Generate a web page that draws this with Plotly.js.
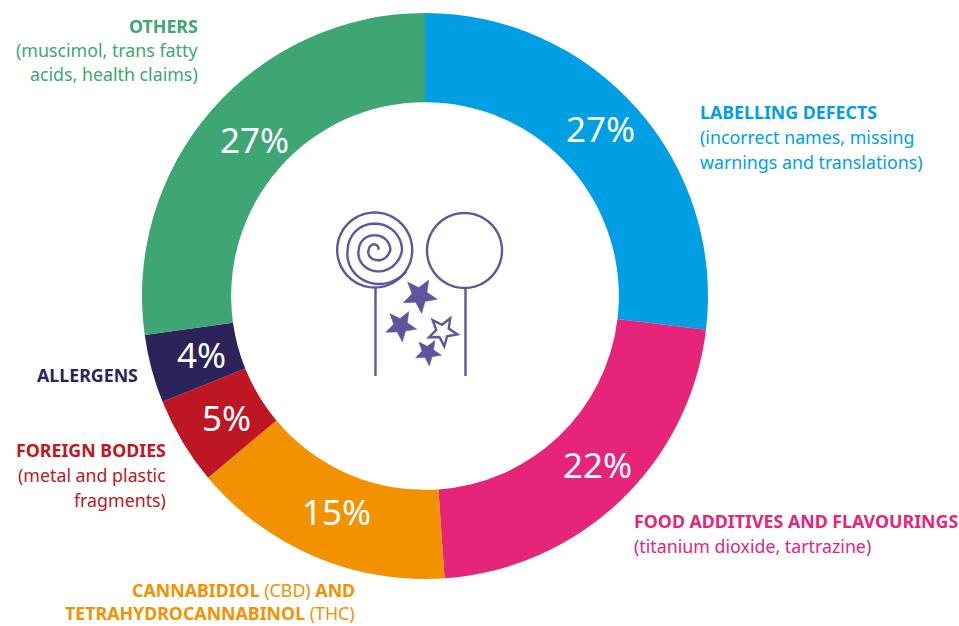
<!DOCTYPE html>
<html><head><meta charset="utf-8">
<script src="https://cdn.plot.ly/plotly-3.0.1.min.js"></script>
<style>html,body{margin:0;padding:0;background:#fff}#c{width:959px;height:626px}</style></head>
<body><div id="c"></div>
<script>
const categories=["LABELLING DEFECTS","FOOD ADDITIVES AND FLAVOURINGS","CANNABIDIOL (CBD) AND TETRAHYDROCANNABINOL (THC)","FOREIGN BODIES","ALLERGENS","OTHERS"];
const values=[26.9,22,15,5,3.9,27.2];
const sliceText=["27%","22%","15%","5%","4%","27%"];
const colors=["#009fe3","#e6247a","#f39200","#be1622","#2b2359","#3da674"];
const labelTexts=[
 ["<b>LABELLING DEFECTS</b>","(incorrect names, missing","warnings and translations)"],
 ["<b>FOOD ADDITIVES AND FLAVOURINGS</b>","(titanium dioxide, tartrazine)"],
 ["<b>CANNABIDIOL</b> (CBD) <b>AND</b>","<b>TETRAHYDROCANNABINOL</b> (THC)"],
 ["<b>FOREIGN BODIES</b>","(metal and plastic","fragments)"],
 ["<b>ALLERGENS</b>"],
 ["<b>OTHERS</b>","(muscimol, trans fatty","acids, health claims)"]
];
const W=959,H=626,FONT='"Noto Sans", sans-serif',INK='#5f559f';
// layout only: anchor x, first line y, line gap, side for each label block; centre of each slice label
const labelPlace=[[698.5,111.5,25,"left"],[632.5,520.5,25,"left"],[355.5,590,23,"right"],[166.5,449.5,25,"right"],[139,375,25,"right"],[198.5,25.5,24.5,"right"]];
const sliceTextPlace=[[600,128],[597,464],[336,511],[226,417],[201,354.5],[254,139]];
const px=x=>(x/W).toFixed(5), py=y=>(1-y/H).toFixed(5);
const toPath=(pts,close)=>pts.map((p,i)=>(i?'L':'M')+px(p[0])+','+py(p[1])).join(' ')+(close?' Z':'');
function circle(cx,cy,r){const k=[];for(let a=0;a<=360;a+=4)k.push([cx+r*Math.sin(a*Math.PI/180),cy-r*Math.cos(a*Math.PI/180)]);return toPath(k,true);}
function star(cx,cy,R,rot){const k=[];for(let i=0;i<10;i++){const a=(rot+i*36)*Math.PI/180,r=i%2?R*0.44:R;k.push([cx+r*Math.sin(a),cy-r*Math.cos(a)]);}return toPath(k,true);}
// icon decoration: spiral radius (in 1/3 px) at each quarter turn, anticlockwise from the right
const spiralR=[11,16,18,30,47,43,48,64,82,78,81,102,115];
function spiral(cx,cy){const k=[];const q=18;for(let i=0;i<spiralR.length-1;i++){const n=i==spiralR.length-2?Math.round(q*0.6):q;for(let j=0;j<=n;j++){const t=j/q,f=j/n,r=(spiralR[i]+(spiralR[i+1]-spiralR[i])*f)/3;const a=(90-(i+t)*90)*Math.PI/180;k.push([cx+r*Math.sin(a),cy-r*Math.cos(a)]);}}return toPath(k,false);}
const line={color:INK,width:2.4};
const shapes=[
 {d:circle(374.7,250,37.5)},{d:circle(464.5,250.5,37.5)},
 {d:spiral(374.7,249.7)},
 {d:toPath([[375.5,288],[375.5,376]])},{d:toPath([[465.5,288],[465.5,376]])},
 {d:star(419.7,295.5,18,30),f:1},{d:star(400.7,325.7,16.3,30),f:1},{d:star(428,352.3,13.7,30),f:1},
 {d:star(442.7,331.3,15,30),h:1}
].map(s=>({type:'path',xref:'paper',yref:'paper',path:s.d,fillcolor:s.f?INK:'rgba(0,0,0,0)',line:s.f?{color:INK,width:0.5}:line}));
const annotations=[];
labelTexts.forEach((lines,i)=>{const p=labelPlace[i];lines.forEach((t,j)=>annotations.push({xref:'paper',yref:'paper',x:p[0]/W,y:1-(p[1]+j*p[2])/H,xanchor:p[3],yanchor:'middle',align:p[3],showarrow:false,text:t,borderpad:0,font:{family:FONT,size:17.8,color:colors[i]}}));});
sliceText.forEach((t,i)=>annotations.push({xref:'paper',yref:'paper',x:sliceTextPlace[i][0]/W,y:1-sliceTextPlace[i][1]/H,xanchor:'center',yanchor:'middle',showarrow:false,text:t,borderpad:0,font:{family:FONT,size:35,color:'#fff'}}));
Plotly.newPlot('c',[{type:'pie',labels:categories,values:values,textinfo:'none',sort:false,direction:'clockwise',rotation:0,hole:0.685,marker:{colors:colors,line:{width:0}},domain:{x:[142/W,708/W],y:[1-579/H,1-13/H]},hoverinfo:'label+percent'}],
{width:W,height:H,margin:{l:0,r:0,t:0,b:0},showlegend:false,paper_bgcolor:'#fff',shapes:shapes,annotations:annotations},{displayModeBar:false});
</script></body></html>
